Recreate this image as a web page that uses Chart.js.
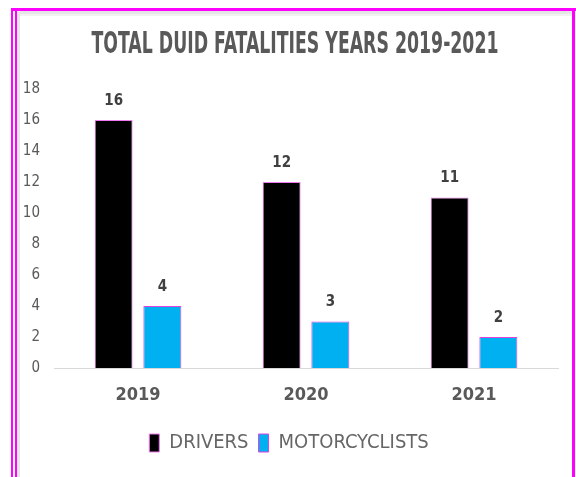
<!DOCTYPE html>
<html>
<head>
<meta charset="utf-8">
<title>Total DUID Fatalities 2019-2021</title>
<script src="https://cdn.jsdelivr.net/npm/chart.js@4.4.1/dist/chart.umd.min.js"></script>
<style>
  html, body { margin: 0; padding: 0; background: #ffffff; }
  #chart { display: block; }
</style>
</head>
<body>
<canvas id="chart" width="576" height="477"></canvas>
<script>
// ============================================
// Data
// ============================================
const TITLE = "TOTAL DUID FATALITIES YEARS 2019-2021";
const YEARS = ["2019", "2020", "2021"];
const DRIVERS = [16, 12, 11];
const MOTORCYCLISTS = [4, 3, 2];
const Y_TICKS = [0, 2, 4, 6, 8, 10, 12, 14, 16, 18];

const FONT = "'DejaVu Sans Condensed', 'Liberation Sans Narrow', sans-serif";
const GRAY = "#595959";

// Pink frame round the whole picture
const framePlugin = {
  id: "frame",
  beforeDraw(chart) {
    const ctx = chart.ctx;
    const w = chart.width, h = chart.height;
    ctx.save();
    ctx.fillStyle = "#ffffff";
    ctx.fillRect(0, 0, w, h);
    // soft shadow inside the frame
    ctx.fillStyle = "#e6e6e6";
    ctx.fillRect(17, 11, w - 21, 3);
    ctx.fillRect(17, 11, 3, h - 11);
    ctx.fillStyle = "#f2f2f2";
    ctx.fillRect(20, 14, w - 24, 2);
    // magenta lines
    ctx.fillStyle = "#ff00ff";
    ctx.fillRect(11, 8, w - 11, 3);
    ctx.fillRect(11, 8, 2, h - 8);
    ctx.fillRect(15, 8, 2, h - 8);
    ctx.fillRect(w - 4, 8, 3, h - 8);
    ctx.restore();
  },
};

// Condensed title, squeezed sideways to the reference's narrow face
const titlePlugin = {
  id: "narrowTitle",
  afterDraw(chart) {
    const ctx = chart.ctx;
    ctx.save();
    ctx.font = `bold 30px ${FONT}`;
    ctx.fillStyle = GRAY;
    ctx.textAlign = "center";
    ctx.textBaseline = "middle";
    const sx = 407 / ctx.measureText(TITLE).width;
    ctx.translate(295, 45);
    ctx.scale(sx, 1);
    ctx.fillText(TITLE, 0, 0);
    ctx.restore();
  },
};

// Value labels above each bar
const valueLabels = {
  id: "valueLabels",
  afterDatasetsDraw(chart) {
    const ctx = chart.ctx;
    ctx.save();
    ctx.font = `bold 15px ${FONT}`;
    ctx.fillStyle = "#404040";
    ctx.textAlign = "center";
    ctx.textBaseline = "middle";
    chart.data.datasets.forEach((ds, i) => {
      chart.getDatasetMeta(i).data.forEach((bar, j) => {
        ctx.fillText(String(ds.data[j]), bar.x, bar.y - 19);
      });
    });
    ctx.restore();
  },
};

new Chart(document.getElementById("chart"), {
  type: "bar",
  data: {
    labels: YEARS,
    datasets: [
      {
        label: "DRIVERS",
        data: DRIVERS,
        backgroundColor: "#000000",
        borderColor: "#f07af0",
        borderWidth: 1,
        categoryPercentage: 0.58,
        barPercentage: 0.78,
      },
      {
        label: "MOTORCYCLISTS",
        data: MOTORCYCLISTS,
        backgroundColor: "#00b0f0",
        borderColor: "#e040e0",
        borderWidth: 1,
        categoryPercentage: 0.58,
        barPercentage: 0.78,
      },
    ],
  },
  options: {
    responsive: false,
    animation: false,
    layout: { padding: { left: 20, right: 18, top: 89, bottom: 14 } },
    plugins: {
      title: { display: false },
      legend: {
        position: "bottom",
        labels: {
          color: "#666666",
          font: { family: FONT, size: 20 },
          boxWidth: 10,
          boxHeight: 18,
          padding: 10,
        },
      },
      tooltip: { enabled: false },
    },
    scales: {
      x: {
        grid: { display: false, drawTicks: false },
        border: { color: "#d9d9d9", width: 1 },
        ticks: {
          color: GRAY,
          padding: 17,
          font: { family: FONT, size: 18, weight: "bold" },
        },
        afterFit: (s) => { s.height = 55; },
      },
      y: {
        min: Y_TICKS[0],
        max: Y_TICKS[Y_TICKS.length - 1],
        grid: { display: false, drawTicks: false },
        border: { display: false },
        afterBuildTicks: (s) => { s.ticks = Y_TICKS.map((v) => ({ value: v })); },
        ticks: {
          color: GRAY,
          padding: 14,
          font: { family: FONT, size: 15 },
        },
        afterFit: (s) => { s.width = 34; },
      },
    },
  },
  plugins: [framePlugin, titlePlugin, valueLabels],
});
</script>
</body>
</html>
